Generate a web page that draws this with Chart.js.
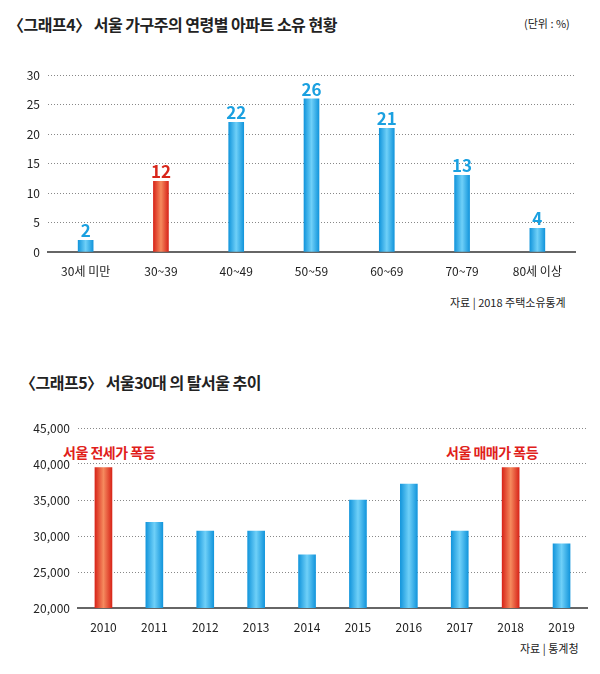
<!DOCTYPE html>
<html>
<head>
<meta charset="utf-8">
<script src="https://cdn.jsdelivr.net/npm/chart.js@4"></script>
<style>
body { margin:0; background:#fff; font-family:"Noto Sans CJK KR", sans-serif; }
#wrap { position:relative; width:600px; height:674px; }
.t { position:absolute; white-space:nowrap; color:#222; }
.title { font-size:16px; font-weight:bold; letter-spacing:-0.5px; }
.small { font-size:11px; }
.red { color:#e0201a; font-size:14px; font-weight:bold; letter-spacing:-0.5px; }
canvas { position:absolute; left:0; }
</style>
</head>
<body>
<div id="wrap">
	<div class="t title" style="left:8px;top:12px;">〈그래프4〉 서울 가구주의 연령별 아파트 소유 현황</div>
	<div class="t small" style="left:524px;top:15px;">(단위 : %)</div>
	<div class="t small" style="left:450px;top:294px;">자료 | 2018 주택소유통계</div>
	<canvas id="c1" width="600" height="220" style="top:60px;"></canvas>

	<div class="t title" style="left:20px;top:370px;">〈그래프5〉 서울30대 의 탈서울 추이</div>
	<div class="t red" style="left:63px;top:442px;">서울 전세가 폭등</div>
	<div class="t red" style="left:446px;top:442px;">서울 매매가 폭등</div>
	<div class="t small" style="left:520px;top:640px;">자료 | 통계청</div>
	<canvas id="c2" width="600" height="226" style="top:410px;"></canvas>
</div>
<script>
/* 데이터 */
var ageLabels = ['30세 미만', '30~39', '40~49', '50~59', '60~69', '70~79', '80세 이상'];
var ageValues = [2, 12, 22, 26, 21, 13, 4];
var ageHighlight = [1];

var yearLabels = ['2010', '2011', '2012', '2013', '2014', '2015', '2016', '2017', '2018', '2019'];
var yearValues = [39500, 31900, 30700, 30700, 27400, 35000, 37200, 30700, 39500, 28900];
var yearHighlight = [0, 8];

// 원통 느낌의 그라데이션
function barFill(highlight, w) {
	return function(context) {
		var chart = context.chart;
		if (!chart.chartArea) return '#1aa3e6';
		var x = chart.scales.x.getPixelForValue(context.dataIndex);
		var g = chart.ctx.createLinearGradient(x - w / 2, 0, x + w / 2, 0);
		if (highlight.indexOf(context.dataIndex) >= 0) {
			g.addColorStop(0, '#d8261a');
			g.addColorStop(0.5, '#f58a5e');
			g.addColorStop(1, '#d8261a');
		} else {
			g.addColorStop(0, '#1496dc');
			g.addColorStop(0.5, '#6fd0f8');
			g.addColorStop(1, '#1496dc');
		}
		return g;
	};
}

// 막대 위 숫자
var valueLabels = {
	id: 'valueLabels',
	afterDatasetsDraw: function(chart) {
		if (!chart.options.plugins.valueLabels.show) return;
		var ctx = chart.ctx;
		var meta = chart.getDatasetMeta(0);
		ctx.save();
		ctx.font = 'bold 17px "Noto Sans CJK KR"';
		ctx.textAlign = 'center';
		ctx.textBaseline = 'bottom';
		meta.data.forEach(function(bar, i) {
			ctx.fillStyle = ageHighlight.indexOf(i) >= 0 ? '#d8261a' : '#1aa0e0';
			ctx.fillText(ageValues[i], bar.x, bar.y - 1);
		});
		ctx.restore();
	}
};

function makeChart(id, labels, values, highlight, opt) {
	return new Chart(document.getElementById(id), {
		type: 'bar',
		data: {
			labels: labels,
			datasets: [{
				data: values,
				backgroundColor: barFill(highlight, opt.bar),
				barThickness: opt.bar
			}]
		},
		plugins: [valueLabels],
		options: {
			responsive: false,
			animation: false,
			layout: { padding: { top: opt.top, right: opt.right, left: 0, bottom: 0 } },
			plugins: {
				legend: { display: false },
				tooltip: { enabled: false },
				valueLabels: { show: opt.labels }
			},
			scales: {
				x: {
					grid: { display: false },
					border: { color: '#666', width: 2 },
					ticks: { color: '#222', font: { size: 12, family: 'Noto Sans CJK KR' }, padding: 4, maxRotation: 0 },
					afterFit: function(s) { s.height = 28; }
				},
				y: {
					min: opt.min, max: opt.max,
					ticks: {
						stepSize: opt.step, color: '#222', padding: 8,
						font: { size: 12, family: 'Noto Sans CJK KR' },
						callback: function(v) { return v.toLocaleString('en-US'); }
					},
					border: { display: false },
					grid: { color: '#888', lineWidth: 1, drawTicks: false },
					afterFit: function(s) { s.width = opt.yw; }
				}
			}
		}
	});
}

Chart.defaults.elements.line.borderDash = [];
var chart1 = makeChart('c1', ageLabels, ageValues, ageHighlight,
	{ bar: 15, top: 11, right: 25, min: 0, max: 30, step: 5, yw: 48, labels: true });
var chart2 = makeChart('c2', yearLabels, yearValues, yearHighlight,
	{ bar: 17, top: 18, right: 13, min: 20000, max: 45000, step: 5000, yw: 78, labels: false });

// 점선 격자
[chart1, chart2].forEach(function(c) {
	c.options.scales.y.grid.color = function(ctx) { return ctx.index === 0 ? 'rgba(0,0,0,0)' : '#888'; };
	c.options.scales.y.border = { display: false, dash: [1, 2] };
	c.update();
});
</script>
</body>
</html>
